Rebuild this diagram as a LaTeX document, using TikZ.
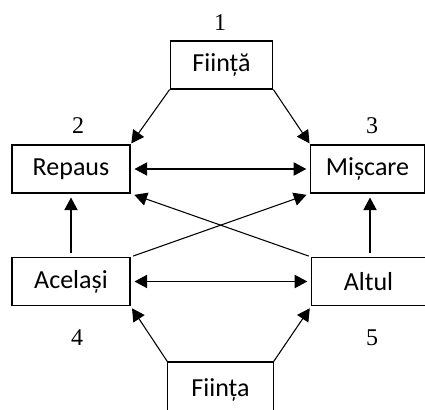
\documentclass[tikz,border=0pt]{standalone}
\usepackage{fontspec}
\setmainfont{Carlito}
\newfontfamily\numfont{Liberation Serif}
\usetikzlibrary{arrows.meta}
\begin{document}
\begin{tikzpicture}[x=0.75pt,y=-0.75pt,>={Triangle[length=9.5pt,width=10pt]},line width=0.8pt,
	box/.style={draw,inner sep=0pt,minimum height=36pt,font=\fontsize{19.5}{21}\selectfont},
	num/.style={font=\numfont\fontsize{18}{20}\selectfont}]
			\clip (0,0) rectangle (425,410);
			\node[box,minimum width=77pt] (fiinta) at (221.5,65) {Ființă};
			\node[box,minimum width=88.5pt] (repaus) at (71,169) {Repaus};
			\node[box,minimum width=85pt] (miscare) at (367.5,169) {Mișcare};
			\node[box,minimum width=88.5pt] (acelasi) at (71,281.5) {Același};
			\node[box,minimum width=85pt] (altul) at (368.5,281.5) {Altul};
			\node[box,minimum width=79pt,minimum height=42pt] (fiinta2) at (220.5,390) {Ființa};
			\node[num] (n1) at (220,23) {1};
			\node[num] (n2) at (78,126) {2};
			\node[num] (n3) at (372,126) {3};
			\node[num] (n4) at (77,338) {4};
			\node[num] (n5) at (372,338) {5};
			\draw[->,shorten >=1pt] (fiinta.south west)--(repaus.north east);
			\draw[->,shorten >=1pt] (fiinta.south east)--(miscare.north west);
			\draw[<->,shorten <=3pt,shorten >=3pt] (repaus)--(miscare);
			\draw[<->,shorten <=3pt,shorten >=3pt] (acelasi)--(altul);
			\draw[->,shorten <=3pt,shorten >=3pt] (acelasi)--(repaus);
			\draw[->,shorten <=3pt,shorten >=3pt] (altul.north-|370,0)--(miscare.south-|370,0);
			\draw[->,shorten <=2pt,shorten >=3pt] (acelasi.north east)--(miscare.south west);
			\draw[->,shorten <=2pt,shorten >=3pt] (altul.north west)--(repaus.south east);
			\draw[->,shorten >=2pt] (fiinta2.north west)--(acelasi.south east);
			\draw[->,shorten >=2pt] (fiinta2.north east)--(altul.south west);
		\end{tikzpicture}
\end{document}
